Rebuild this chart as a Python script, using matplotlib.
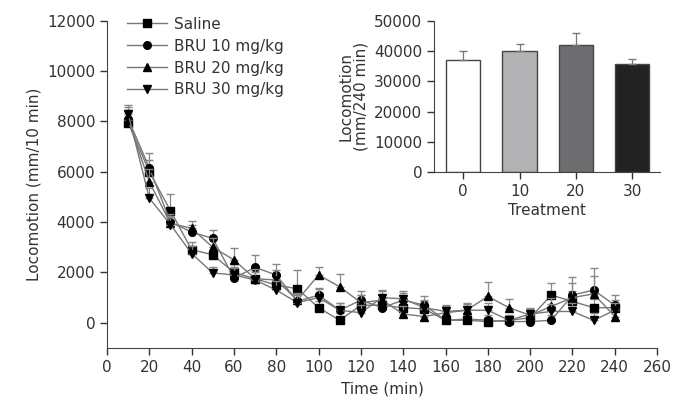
import matplotlib.pyplot as plt
import numpy as np

# Time points (min)
time = [10, 20, 30, 40, 50, 60, 70, 80, 90, 100, 110, 120,
        130, 140, 150, 160, 170, 180, 190, 200, 210, 220, 230, 240]

# Mean locomotion (mm/10 min) per group
saline = [7950, 6000, 4450, 2900, 2700, 2000, 1750, 1500, 1350, 600, 100, 700,
          700, 600, 550, 100, 100, 50, 100, 200, 1100, 850, 600, 600]
bru10 = [8100, 6150, 4000, 3600, 3350, 1780, 2200, 1900, 850, 1100, 500, 900,
         600, 900, 700, 100, 150, 100, 50, 50, 100, 1100, 1300, 700]
bru20 = [8050, 5600, 3950, 3750, 3000, 2500, 1750, 1700, 900, 1900, 1430, 800,
         900, 350, 250, 400, 500, 1050, 600, 300, 650, 1000, 1150, 250]
bru30 = [8300, 4950, 3900, 2750, 1980, 1900, 1700, 1300, 800, 1000, 500, 400,
         1000, 950, 600, 450, 500, 500, 100, 350, 450, 450, 100, 500]

# Upper SEM
saline_err = [400, 450, 650, 300, 300, 350, 300, 400, 750, 250, 300, 400,
              300, 350, 300, 200, 200, 200, 150, 200, 480, 400, 350, 300]
bru10_err = [450, 580, 300, 300, 350, 400, 500, 450, 300, 300, 300, 350,
             400, 300, 350, 200, 200, 200, 200, 200, 200, 700, 870, 400]
bru20_err = [400, 500, 300, 300, 350, 470, 400, 400, 300, 300, 520, 300,
             350, 300, 300, 250, 300, 570, 350, 250, 350, 600, 700, 350]
bru30_err = [350, 400, 300, 300, 250, 300, 300, 350, 300, 350, 300, 300,
             300, 300, 300, 250, 250, 300, 200, 250, 300, 350, 300, 300]

labels = ['Saline', 'BRU 10 mg/kg', 'BRU 20 mg/kg', 'BRU 30 mg/kg']
markers = ['s', 'o', '^', 'v']

# Inset: total locomotion (mm/240 min)
treatment = ['0', '10', '20', '30']
total = [37000, 40100, 42100, 35600]
total_err = [3100, 2100, 3700, 1700]
bar_colors = ['#ffffff', '#b3b3b5', '#6e6e70', '#232223']

plt.rcParams['font.family'] = 'DejaVu Sans'
plt.rcParams['font.size'] = 11
text_color = '#333333'
plt.rcParams['text.color'] = text_color
plt.rcParams['axes.labelcolor'] = text_color
plt.rcParams['xtick.color'] = text_color
plt.rcParams['ytick.color'] = text_color
plt.rcParams['axes.edgecolor'] = '#444444'

fig = plt.figure(figsize=(6.75, 4.04), dpi=100)
ax = fig.add_axes([0.1585, 0.1386, 0.815, 0.8106])

series = [saline, bru10, bru20, bru30]
errors = [saline_err, bru10_err, bru20_err, bru30_err]
for values, err, marker, label in zip(series, errors, markers, labels):
    # error bars first (upper only), then line + marker on top
    ax.errorbar(time, values, yerr=[np.zeros(len(err)), err], fmt='none',
                ecolor='#888888', elinewidth=0.9, capsize=3)
    ax.plot(time, values, '-', color='#777777', lw=1, marker=marker, ms=5.5,
            mfc='black', mec='black', label=label)

ax.set_xlim(0, 260)
ax.set_ylim(-1000, 12000)
ax.set_xticks(range(0, 261, 20))
ax.set_yticks(range(0, 12001, 2000))
ax.set_xlabel('Time (min)', labelpad=5)
ax.set_ylabel('Locomotion (mm/10 min)')
for side in ['top', 'right']:
    ax.spines[side].set_visible(False)
ax.tick_params(direction='out', length=5, width=1)

ax.legend(loc='upper left', bbox_to_anchor=(0.025, 1.03), frameon=False,
          handlelength=2.6, labelspacing=0.45, handletextpad=0.5,
          borderaxespad=0)

# Inset bar chart
ins = fig.add_axes([0.643, 0.574, 0.335, 0.375])
pos = np.arange(len(treatment))
ins.bar(pos, total, width=0.61, color=bar_colors, edgecolor='#444444',
        linewidth=1, yerr=[np.zeros(len(total_err)), total_err],
        error_kw=dict(ecolor='#777777', elinewidth=0.9, capsize=3))
ins.set_xlim(-0.52, 3.5)
ins.set_ylim(0, 50000)
ins.set_yticks(range(0, 50001, 10000))
ins.set_xticks(pos)
ins.set_xticklabels(treatment)
ins.set_xlabel('Treatment', labelpad=3)
ins.set_ylabel('Locomotion\n(mm/240 min)', linespacing=1.0)
for side in ['top', 'right']:
    ins.spines[side].set_visible(False)
ins.tick_params(direction='out', length=5, width=1)

plt.savefig('out.png', dpi=100)
